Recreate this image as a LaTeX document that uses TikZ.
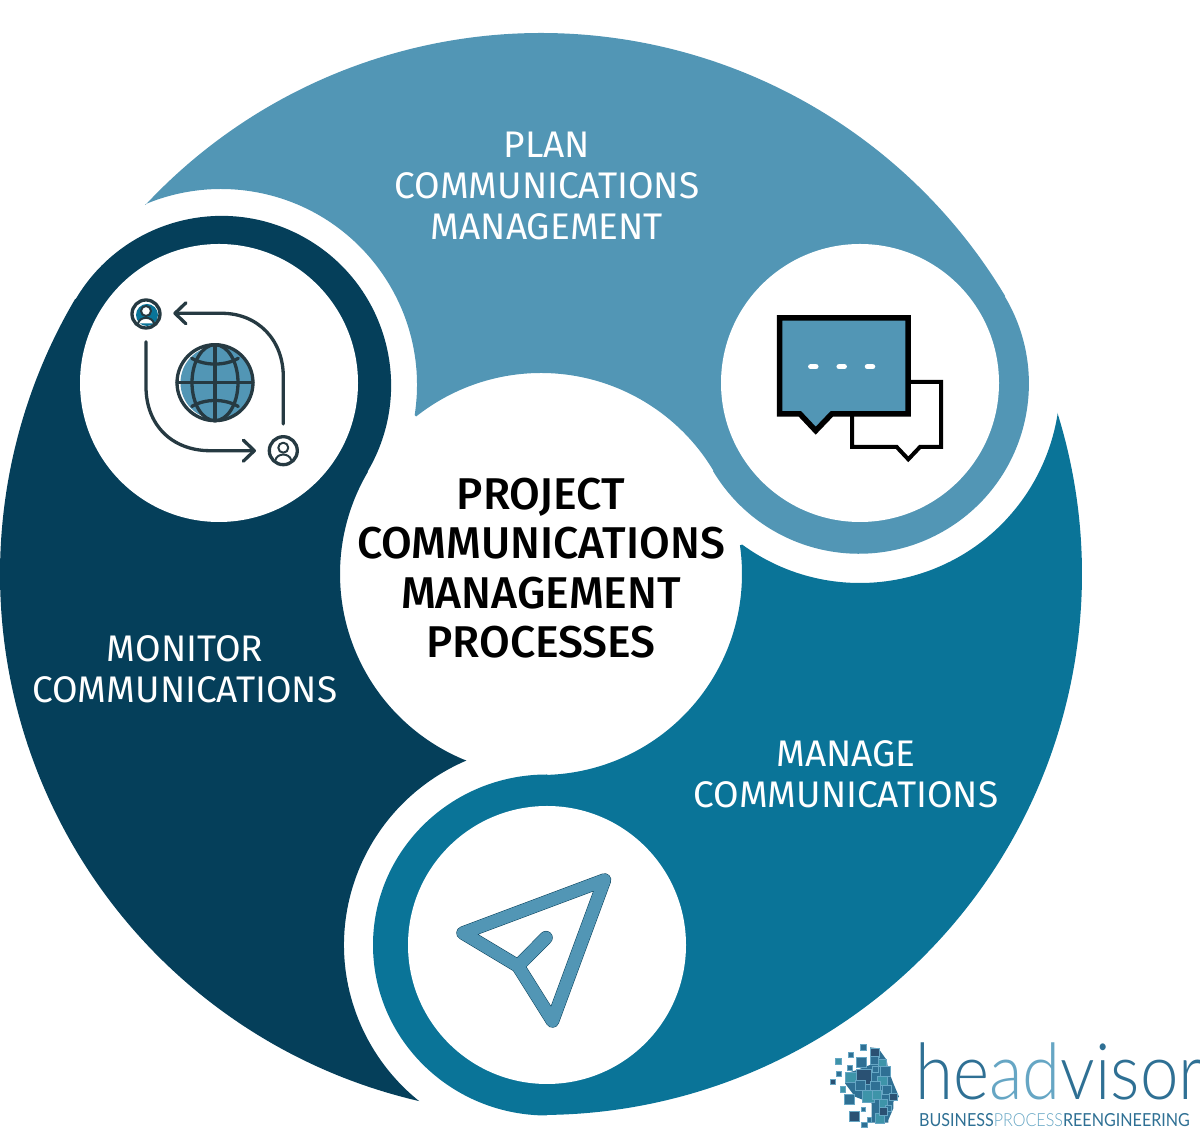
\documentclass[tikz,border=0pt]{standalone}
\usepackage{fontspec}
\setmainfont{Fira Sans}
\newfontfamily\titlefont{Fira Sans Medium}
\newfontfamily\logofont{Lato Light}
\newfontfamily\logotagfont{Lato}
\usetikzlibrary{arrows.meta}
\definecolor{planblue}{HTML}{5296B5}
\definecolor{managed}{HTML}{0A7498}
\definecolor{monitord}{HTML}{053F5A}
\definecolor{inkdark}{HTML}{263A42}
\definecolor{logodark}{HTML}{2F7094}
\definecolor{logolight}{HTML}{66A6C4}
\definecolor{logonavy}{HTML}{2A5173}
\definecolor{logoteal}{HTML}{3E94A9}
\begin{document}
\begin{tikzpicture}[
      x=1pt,y=1pt,
      every node/.style={inner sep=0pt},
      label/.style={text=white,align=center,font=\fontsize{37}{41}\selectfont},
      title/.style={text=black,align=center,font=\titlefont\fontsize{44.5}{49.5}\selectfont},
      hole/.style={circle,fill=white,minimum size=278pt},
      pxgrid/.style={shift={(0,1129)},y=-1pt},
      zoomgrid/.style={shift={(825,89)},x=0.3333pt,y=-0.3333pt},
      iconline/.style={draw=inkdark,line width=3.3pt,line cap=round,line join=round},
      arrowline/.style={iconline,-{Straight Barb[length=11pt,width=21pt,round]}},
      bubble/.style={draw=black,line join=miter},
    ]
      \useasboundingbox (0,0) rectangle (1200,1129);
      \coordinate (hub) at (541,555);
      \coordinate (chat) at (860,746);
      \coordinate (chatrim) at (858.9,745.25);
      \coordinate (globe) at (221,744);
      \coordinate (globerim) at (221.6,743.6);
      \coordinate (send) at (547,184);

      \fill[planblue] ([shift={(136.95:541)}]hub) arc[start angle=136.95,end angle=30.9,radius=541]
        -- ([shift={(30.9:170)}]chatrim) arc[start angle=30.9,end angle=-149.1,radius=170]
        -- ([shift={(30.9:201)}]hub) arc[start angle=30.9,end angle=128.4,radius=201]
        -- ([shift={(-8.8:196)}]globe) arc[start angle=-8.8,end angle=112.8,radius=196]
        -- cycle;
      \fill[monitord] ([shift={(257:541)}]hub) arc[start angle=257,end angle=149.44,radius=541]
        -- ([shift={(149.44:169.5)}]globerim) arc[start angle=149.44,end angle=-30.56,radius=169.5]
        -- ([shift={(149.44:201)}]hub) arc[start angle=149.44,end angle=248.3,radius=201]
        -- ([shift={(113.4:203 and 201)}]send) arc[start angle=113.4,end angle=230.7,x radius=203,y radius=201]
        -- cycle;
      \fill[managed] ([shift={(17.33:541)}]hub) arc[start angle=17.33,end angle=-89.36,radius=541]
        -- ([shift={(-90:174 and 170.5)}]send) arc[start angle=-90,end angle=-270,x radius=174,y radius=170.5]
        -- ([shift={(-88.3:201)}]hub) arc[start angle=-88.3,end angle=8.2,radius=201]
        -- ([shift={(233.9:200)}]chat) arc[start angle=233.9,end angle=351.34,radius=200]
        -- cycle;

      \node[hole] (chathole) at (860,746) {};
      \node[hole] (globehole) at (219,746) {};
      \node[hole] (sendhole) at (547,184) {};

      \node[label] (plan) at (547,943) {PLAN\\COMMUNICATIONS\\MANAGEMENT};
      \node[label] (monitor) at (185,460) {MONITOR\\COMMUNICATIONS};
      \node[label] (manage) at (846,355) {MANAGE\\COMMUNICATIONS};
      \node[title] (process) at (541,561) {PROJECT\\COMMUNICATIONS\\MANAGEMENT\\PROCESSES};

      \begin{scope}[pxgrid]
        \draw[bubble,line width=4pt,fill=white] (852,382) -- (941,382) -- (941,447) -- (920,447)
          -- (908.3,459.3) -- (896.7,447) -- (852,447) -- cycle;
        \draw[bubble,line width=5.5pt,fill=planblue] (779.5,318) -- (908,318) -- (908,414) -- (831.7,414)
          -- (815.7,430.7) -- (800,414) -- (779.5,414) -- cycle;
        \foreach \dotx in {813.3,841.7,870}
          \draw[white,line width=5.5pt,line cap=round] (\dotx-2.5,366.7) -- (\dotx+2.5,366.7);

        \fill[planblue] (217,382.7) circle[radius=36.5];
        \draw[iconline] (215,382.7) circle[radius=38];
        \draw[iconline] (215,382.7) ellipse[x radius=23,y radius=38];
        \draw[iconline] (215,344.7) -- (215,420.7);
        \draw[iconline] (177,382.7) -- (253,382.7);
        \draw[iconline] (191.7,358.3) .. controls (205,366) and (225,366) .. (238.3,358.3);
        \draw[iconline] (191.7,406.5) .. controls (205,398.5) and (225,398.5) .. (238.3,406.5);

        \draw[arrowline] (283.3,424) -- (283.3,376.7) .. controls (283.3,340) and (258,313.3) .. (221.7,313.3) -- (173.3,313.3);
        \draw[arrowline] (146,341.7) -- (146,386.7) .. controls (146,425) and (172,450.7) .. (210,450.7) -- (256,450.7);

        \foreach \userx/\usery/\userfill in {146/314/managed,283.3/450.7/white} {
          \fill[\userfill] (\userx+1,\usery+1) circle[radius=11];
          \fill[white] (\userx-8,\usery+9.5) .. controls (\userx-6,\usery+2) and (\userx+6,\usery+2) .. (\userx+8,\usery+9.5) -- cycle;
          \draw[iconline,line width=2pt] (\userx-8,\usery+9.5) .. controls (\userx-6,\usery+2) and (\userx+6,\usery+2) .. (\userx+8,\usery+9.5);
          \draw[iconline,line width=2pt,fill=white] (\userx,\usery-3) circle[radius=5];
          \draw[iconline] (\userx,\usery) circle[radius=14];
        }

        \draw[draw=monitord,line width=13.5pt,line join=round,line cap=round]
          (604.5,880) -- (463,933) -- (518,966) -- (552.5,1021) -- cycle
          (518,966) -- (546,937.7);
        \draw[draw=planblue,line width=12.5pt,line join=round,line cap=round]
          (604.5,880) -- (463,933) -- (518,966) -- (552.5,1021) -- cycle
          (518,966) -- (546,937.7);
      \end{scope}

      \begin{scope}[zoomgrid]
        \fill[logodark] (135,22) -- (160,25) -- (185,60) -- (190,90) -- (205,130) -- (222,170) -- (205,185)
          -- (205,205) -- (190,240) -- (190,248) -- (140,248) -- (140,190) -- (90,170) -- (60,130)
          -- (62,100) -- (90,92) -- (135,75) -- cycle;
        \foreach \sqx/\sqy/\sqs/\sqc in {
            115/22/16/logodark,78/45/16/logodark,40/63/18/logoteal,110/67/30/logodark,75/82/15/logodark,
            42/102/16/logodark,23/126/16/logonavy,53/148/16/logoteal,72/178/30/logodark,115/208/14/logodark,
            88/230/30/logonavy,133/240/14/logodark,118/255/16/logodark,
            150/38/28/logonavy,148/60/24/logodark,172/68/22/logoteal,180/95/30/logodark,150/88/18/logodark,
            78/112/32/logoteal,115/110/45/logonavy,105/135/30/logodark,172/122/28/logoteal,150/140/30/logodark,
            130/170/36/logoteal,155/165/26/logoteal,185/150/28/logodark,205/170/22/logonavy,175/190/22/logoteal,
            190/205/18/logodark,165/235/28/logoteal,175/215/24/logonavy}
          \filldraw[fill=\sqc,draw=logolight,line width=0.4pt] (\sqx-\sqs/2,\sqy-\sqs/2) rectangle ++(\sqs,\sqs);
      \end{scope}

      \node[anchor=base west,font=\logofont\fontsize{78}{78}\selectfont] (logoname) at (915,29)
        {\scalebox{0.885}[1]{\textcolor{logodark}{he}\textcolor{logolight}{ad}\textcolor{logodark}{visor}}};
      \node[anchor=base west,font=\logotagfont\fontsize{18}{18}\selectfont] (logotag) at (919,2)
        {\scalebox{0.895}[1]{\textcolor{logodark}{BUSINESS}\textcolor{logolight}{\logofont PROCESS}\textcolor{logodark}{REENGINEERING}}};
    \end{tikzpicture}
\end{document}
